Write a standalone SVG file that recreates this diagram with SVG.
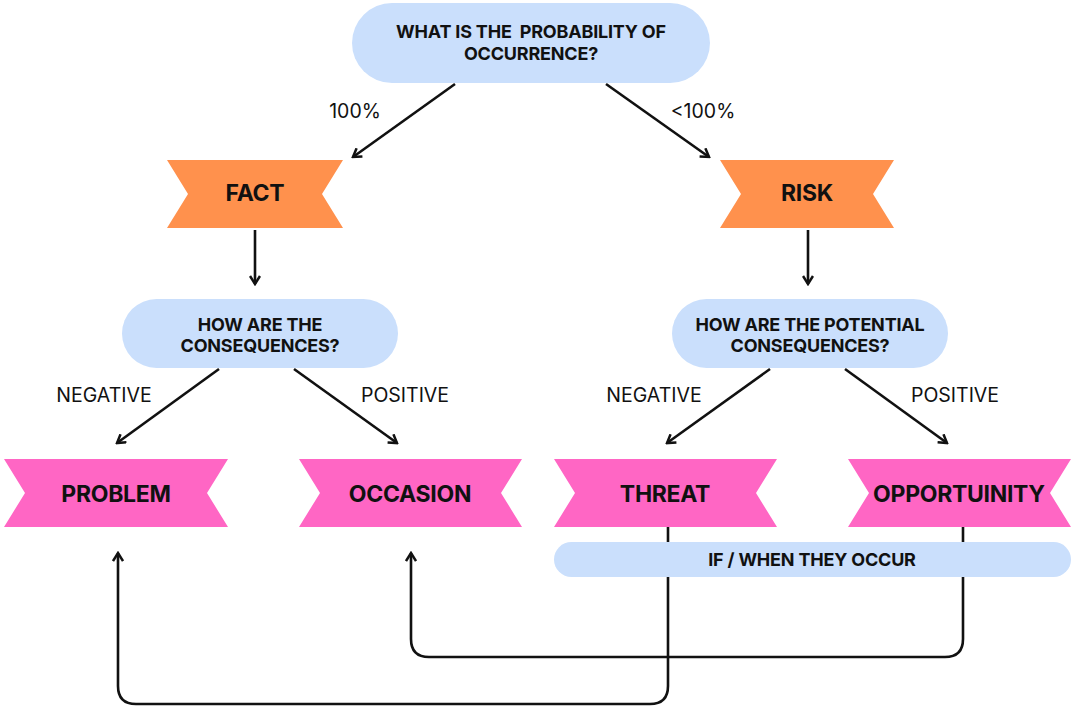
<svg xmlns="http://www.w3.org/2000/svg" width="1072" height="707" viewBox="0 0 1072 707">
  <style>
    .pill { fill: #CADFFC; }
    .fact { fill: #FF914D; }
    .pink { fill: #FF66C4; }
    .q { font-family: Inter, "Liberation Sans", sans-serif; font-weight: 700; font-size: 18px; fill: #111; text-anchor: middle; letter-spacing: -0.2px; white-space: pre; }
    .big { font-family: Inter, "Liberation Sans", sans-serif; font-weight: 700; font-size: 23px; fill: #111; text-anchor: middle; letter-spacing: -0.3px; }
    .lbl { font-family: Inter, "Liberation Sans", sans-serif; font-weight: 400; font-size: 19.5px; fill: #111; text-anchor: middle; }
    .edge { fill: none; stroke: #111; stroke-width: 2.6; stroke-linejoin: round; }
  </style>
  <defs>
    <marker id="arrow" viewBox="0 0 12 12" refX="10" refY="6" markerWidth="12" markerHeight="12" markerUnits="userSpaceOnUse" orient="auto">
      <path d="M2,1 L10,6 L2,11" fill="none" stroke="#111" stroke-width="2.5" stroke-linejoin="miter"/>
    </marker>
  </defs>

  <rect width="1072" height="707" fill="#ffffff"/>

  <!-- connectors -->
  <g id="connectors">
    <path class="edge" marker-end="url(#arrow)" d="M455,84 L353,157"/>
    <path class="edge" marker-end="url(#arrow)" d="M606,84 L709,157"/>
    <path class="edge" marker-end="url(#arrow)" d="M255,230 L255,284"/>
    <path class="edge" marker-end="url(#arrow)" d="M808,230 L808,284"/>
    <path class="edge" marker-end="url(#arrow)" d="M219,369 L117,443"/>
    <path class="edge" marker-end="url(#arrow)" d="M294,369 L397,443"/>
    <path class="edge" marker-end="url(#arrow)" d="M770,369 L667,443"/>
    <path class="edge" marker-end="url(#arrow)" d="M845,369 L947,443"/>
    <!-- feedback loops -->
    <path class="edge" marker-end="url(#arrow)" d="M668,527 L668,686 Q668,704 650,704 L136,704 Q118,704 118,686 L118,553"/>
    <path class="edge" marker-end="url(#arrow)" d="M963,527 L963,639 Q963,657 945,657 L429,657 Q411,657 411,639 L411,553"/>
    <text class="lbl" x="355" y="118">100%</text>
    <text class="lbl" x="703" y="118">&lt;100%</text>
    <text class="lbl" x="104" y="402">NEGATIVE</text>
    <text class="lbl" x="405" y="402">POSITIVE</text>
    <text class="lbl" x="654" y="402">NEGATIVE</text>
    <text class="lbl" x="955" y="402">POSITIVE</text>
  </g>

  <g id="probability">
    <rect class="pill" x="352" y="3" width="358" height="80" rx="40"/>
    <text class="q" x="531" y="38" xml:space="preserve">WHAT IS THE  PROBABILITY OF</text>
    <text class="q" x="531" y="60">OCCURRENCE?</text>
  </g>

  <g id="fact">
    <path class="fact" d="M167,160 L343,160 L322,194 L343,228 L167,228 L188,194 Z"/>
    <text class="big" x="255" y="201">FACT</text>
  </g>

  <g id="risk">
    <path class="fact" d="M720,160 L894,160 L873,194 L894,228 L720,228 L741,194 Z"/>
    <text class="big" x="807" y="201">RISK</text>
  </g>

  <g id="consequences">
    <rect class="pill" x="122" y="299" width="276" height="69" rx="34.5"/>
    <text class="q" x="260" y="331">HOW ARE THE</text>
    <text class="q" x="260" y="352">CONSEQUENCES?</text>
  </g>

  <g id="potential">
    <rect class="pill" x="672" y="299" width="276" height="69" rx="34.5"/>
    <text class="q" x="810" y="331">HOW ARE THE POTENTIAL</text>
    <text class="q" x="810" y="352">CONSEQUENCES?</text>
  </g>

  <g id="problem">
    <path class="pink" d="M4,459 L228,459 L207,493 L228,527 L4,527 L25,493 Z"/>
    <text class="big" x="116" y="502">PROBLEM</text>
  </g>

  <g id="occasion">
    <path class="pink" d="M299,459 L522,459 L501,493 L522,527 L299,527 L320,493 Z"/>
    <text class="big" x="410" y="502">OCCASION</text>
  </g>

  <g id="threat">
    <path class="pink" d="M554,459 L777,459 L756,493 L777,527 L554,527 L575,493 Z"/>
    <text class="big" x="665" y="502">THREAT</text>
  </g>

  <g id="opportunity">
    <path class="pink" d="M848,459 L1071,459 L1050,493 L1071,527 L848,527 L869,493 Z"/>
    <text class="big" x="959" y="502">OPPORTUINITY</text>
  </g>

  <g id="occur">
    <rect class="pill" x="554" y="542" width="517" height="35" rx="17.5"/>
    <text class="q" x="812" y="566">IF / WHEN THEY OCCUR</text>
  </g>
</svg>
